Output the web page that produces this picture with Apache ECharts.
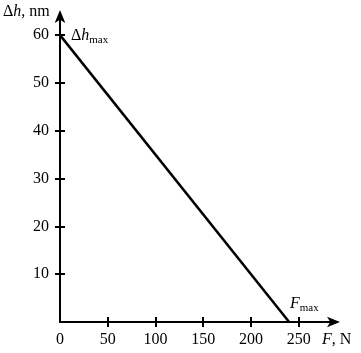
<!DOCTYPE html>
<html><head><meta charset="utf-8">
<script src="https://cdn.jsdelivr.net/npm/echarts@6/dist/echarts.min.js"></script>
<style>html,body{margin:0;padding:0;background:#fff}#c{width:361px;height:353px}</style>
</head><body><div id="c"></div>
<script>
var forceN = [0, 240];
var deltaH = [60, 0];
var xTicks = [50, 100, 150, 200, 250];
var xLabels = [0, 50, 100, 150, 200, 250];
var yTicks = [10, 20, 30, 40, 50, 60];

var FONT = 'Liberation Serif';
var FS = 16;
var chart = echarts.init(document.getElementById('c'));
chart.setOption({
  animation: false,
  grid: {left: 60, right: 27, top: 16, bottom: 31},
  xAxis: [
    {type: 'value', min: 0, max: 287,
      axisLine: {show: true, symbol: ['none', 'arrow'], symbolSize: [8, 13], symbolOffset: [0, 6], lineStyle: {color: '#000', width: 2}},
      axisTick: {show: true, length: 5, lineStyle: {color: '#000', width: 2}, customValues: xTicks},
      axisLabel: {customValues: xLabels, color: '#000', fontFamily: FONT, fontSize: FS, margin: 10},
      splitLine: {show: false}},
    {type: 'value', min: 0, max: 287, position: 'bottom',
      axisLine: {show: false},
      axisTick: {show: true, inside: true, length: 5, lineStyle: {color: '#000', width: 2}, customValues: xTicks},
      axisLabel: {show: false}, splitLine: {show: false}}
  ],
  yAxis: [
    {type: 'value', min: 0, max: 64,
      axisLine: {show: true, symbol: ['none', 'arrow'], symbolSize: [8, 13], symbolOffset: [0, 6], lineStyle: {color: '#000', width: 2}},
      axisTick: {show: true, length: 5, lineStyle: {color: '#000', width: 2}, customValues: yTicks},
      axisLabel: {customValues: yTicks, color: '#000', fontFamily: FONT, fontSize: FS, margin: 11},
      splitLine: {show: false}},
    {type: 'value', min: 0, max: 64, position: 'left',
      axisLine: {show: false},
      axisTick: {show: true, inside: true, length: 5, lineStyle: {color: '#000', width: 2}, customValues: yTicks},
      axisLabel: {show: false}, splitLine: {show: false}}
  ],
  series: [{
    type: 'line', xAxisIndex: 0, yAxisIndex: 0,
    data: forceN.map(function (f, i) { return [f, deltaH[i]]; }),
    symbol: 'none',
    lineStyle: {color: '#000', width: 2.5}
  }],
  graphic: [
    {type: 'text', left: 3, top: 4, style: {
      text: '{n|Δ}{i|h}{n|, nm}', fontFamily: FONT, fontSize: FS, fill: '#000',
      rich: {n: {fontFamily: FONT, fontSize: FS, fill: '#000'}, i: {fontFamily: FONT, fontSize: FS, fontStyle: 'italic', fill: '#000'}}}},
    {type: 'text', left: 71, top: 28, style: {
      text: '{n|Δ}{i|h}{s|max}', fontFamily: FONT, fontSize: FS, fill: '#000',
      rich: {n: {fontFamily: FONT, fontSize: FS}, i: {fontFamily: FONT, fontSize: FS, fontStyle: 'italic'}, s: {fontFamily: FONT, fontSize: 11, padding: [9, 0, 0, 0]}}}},
    {type: 'text', left: 290, top: 296, style: {
      text: '{i|F}{s|max}', fontFamily: FONT, fontSize: FS, fill: '#000',
      rich: {i: {fontFamily: FONT, fontSize: FS, fontStyle: 'italic'}, s: {fontFamily: FONT, fontSize: 11, padding: [9, 0, 0, 0]}}}},
    {type: 'text', left: 322, top: 332, style: {
      text: '{i|F}{n|, N}', fontFamily: FONT, fontSize: FS, fill: '#000',
      rich: {i: {fontFamily: FONT, fontSize: FS, fontStyle: 'italic'}, n: {fontFamily: FONT, fontSize: FS}}}}
  ]
});
</script></body></html>
